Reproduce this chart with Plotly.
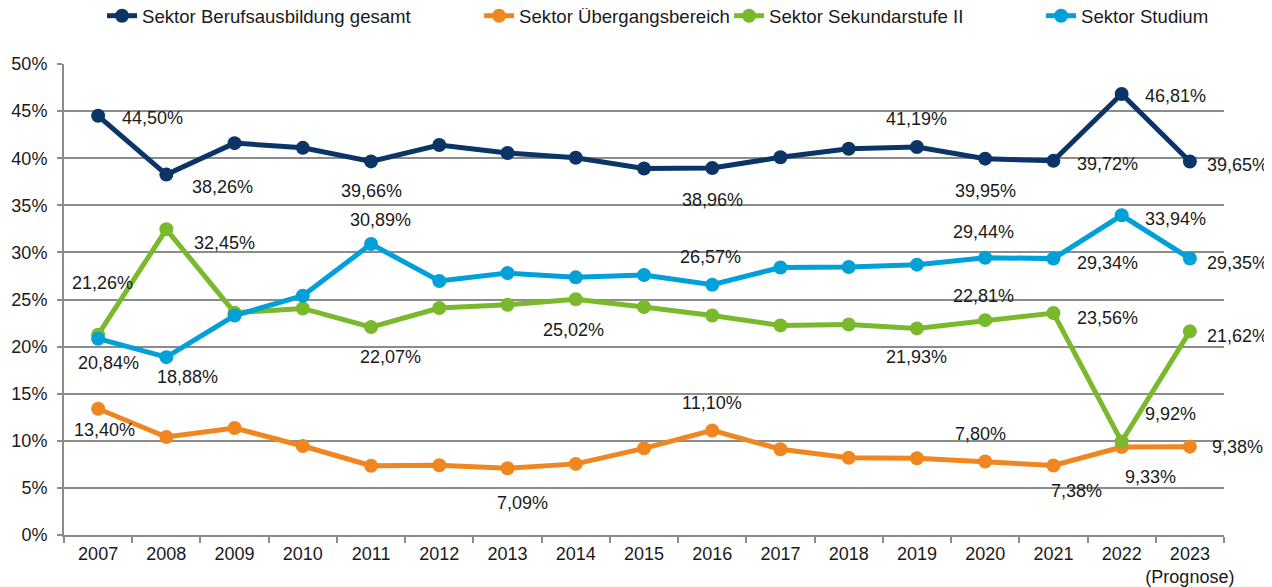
import plotly.graph_objects as go

years = ["2007", "2008", "2009", "2010", "2011", "2012", "2013", "2014", "2015",
         "2016", "2017", "2018", "2019", "2020", "2021", "2022", "2023"]
year_labels = years[:-1] + ["2023<br>(Prognose)"]

beruf = [44.50, 38.26, 41.60, 41.10, 39.66, 41.40, 40.55, 40.05, 38.90,
         38.96, 40.10, 41.00, 41.19, 39.95, 39.72, 46.81, 39.65]
ueber = [13.40, 10.40, 11.36, 9.45, 7.35, 7.40, 7.09, 7.55, 9.20,
         11.10, 9.10, 8.20, 8.15, 7.80, 7.38, 9.33, 9.38]
sek = [21.26, 32.45, 23.60, 24.05, 22.07, 24.10, 24.45, 25.02, 24.20,
       23.30, 22.25, 22.35, 21.93, 22.81, 23.56, 9.92, 21.62]
stud = [20.84, 18.88, 23.30, 25.40, 30.89, 26.96, 27.80, 27.35, 27.60,
        26.57, 28.40, 28.45, 28.70, 29.44, 29.34, 33.94, 29.35]

names = ["Sektor Berufsausbildung gesamt", "Sektor Übergangsbereich",
         "Sektor Sekundarstufe II", "Sektor Studium"]
colors = ["#0b3467", "#f0861f", "#7ab82c", "#00a0d9"]
series = [beruf, ueber, sek, stud]

# label placement: year -> (dx, dy) pixel offset of label centre from the point
label_pos = [
    {"2007": (54, 2), "2008": (56, 12), "2011": (0, 30), "2016": (0, 32), "2019": (0, -28),
     "2020": (0, 32), "2021": (54, 3), "2022": (54, 2), "2023": (48, 3)},
    {"2007": (6, 21), "2013": (15, 35), "2016": (0, -27), "2020": (-5, -28),
     "2021": (23, 26), "2022": (29, 30), "2023": (48, 0)},
    {"2007": (4, -52), "2008": (58, 14), "2011": (19, 30), "2014": (-2, 31), "2019": (0, 29),
     "2020": (-2, -24), "2021": (54, 5), "2022": (49, -28), "2023": (48, 5)},
    {"2007": (10, 24), "2008": (21, 20), "2011": (9, -24), "2016": (-2, -28),
     "2020": (-2, -26), "2021": (54, 4), "2022": (54, 4), "2023": (48, 4)},
]

# horizontal position (container fraction) of each legend entry
legend_x = [0.0744, 0.3727, 0.5705, 0.8173]

FONT = "Liberation Sans, Arial, sans-serif"
TXT = "#1a1a1a"
GRID = "#8c8c8c"
FS = 18

fig = go.Figure()
annotations = []
legend_ids = ["legend", "legend2", "legend3", "legend4"]
for k, (name, col, vals, pos) in enumerate(zip(names, colors, series, label_pos)):
    fig.add_trace(go.Scatter(
        x=years, y=vals, name=name, mode="lines+markers",
        line=dict(color=col, width=5),
        marker=dict(color=col, size=14),
        legend=legend_ids[k],
    ))
    for yr, (dx, dy) in pos.items():
        i = years.index(yr)
        v = vals[i]
        annotations.append(dict(
            x=i, y=v, xref="x", yref="y",
            text=f"{v:.2f}".replace(".", ",") + "%",
            showarrow=False, xshift=dx, yshift=-dy,
            font=dict(family=FONT, size=FS, color=TXT),
        ))

legend_common = dict(orientation="h", xanchor="left", xref="container",
                     y=0.986, yanchor="middle", yref="container",
                     font=dict(family=FONT, size=18.6, color=TXT),
                     bgcolor="rgba(0,0,0,0)")

fig.update_layout(
    width=1264, height=579,
    margin=dict(l=56, r=48, t=56, b=52, autoexpand=False),
    paper_bgcolor="white", plot_bgcolor="white",
    font=dict(family=FONT, size=FS, color=TXT),
    showlegend=True,
    legend=dict(x=legend_x[0], **legend_common),
    legend2=dict(x=legend_x[1], **legend_common),
    legend3=dict(x=legend_x[2], **legend_common),
    legend4=dict(x=legend_x[3], **legend_common),
    annotations=annotations,
)
fig.update_xaxes(
    type="category", categoryorder="array", categoryarray=years,
    tickvals=years, ticktext=year_labels, range=[-0.5, len(years) - 0.5],
    showgrid=False, showline=True, linecolor=GRID, linewidth=2,
    ticks="outside", tickson="boundaries", ticklen=6, tickcolor=GRID, tickwidth=2,
    tickfont=dict(family=FONT, size=FS, color=TXT), tickangle=0,
    ticklabelstandoff=1,
)
fig.update_yaxes(
    range=[0, 50], dtick=5, ticksuffix="%",
    showgrid=True, gridcolor=GRID, gridwidth=1.5,
    showline=True, linecolor=GRID, linewidth=2,
    ticks="outside", ticklen=5, tickcolor=GRID, tickwidth=2,
    tickfont=dict(family=FONT, size=FS, color=TXT),
    zeroline=False, ticklabelstandoff=6,
)

fig.write_html("out.html")
